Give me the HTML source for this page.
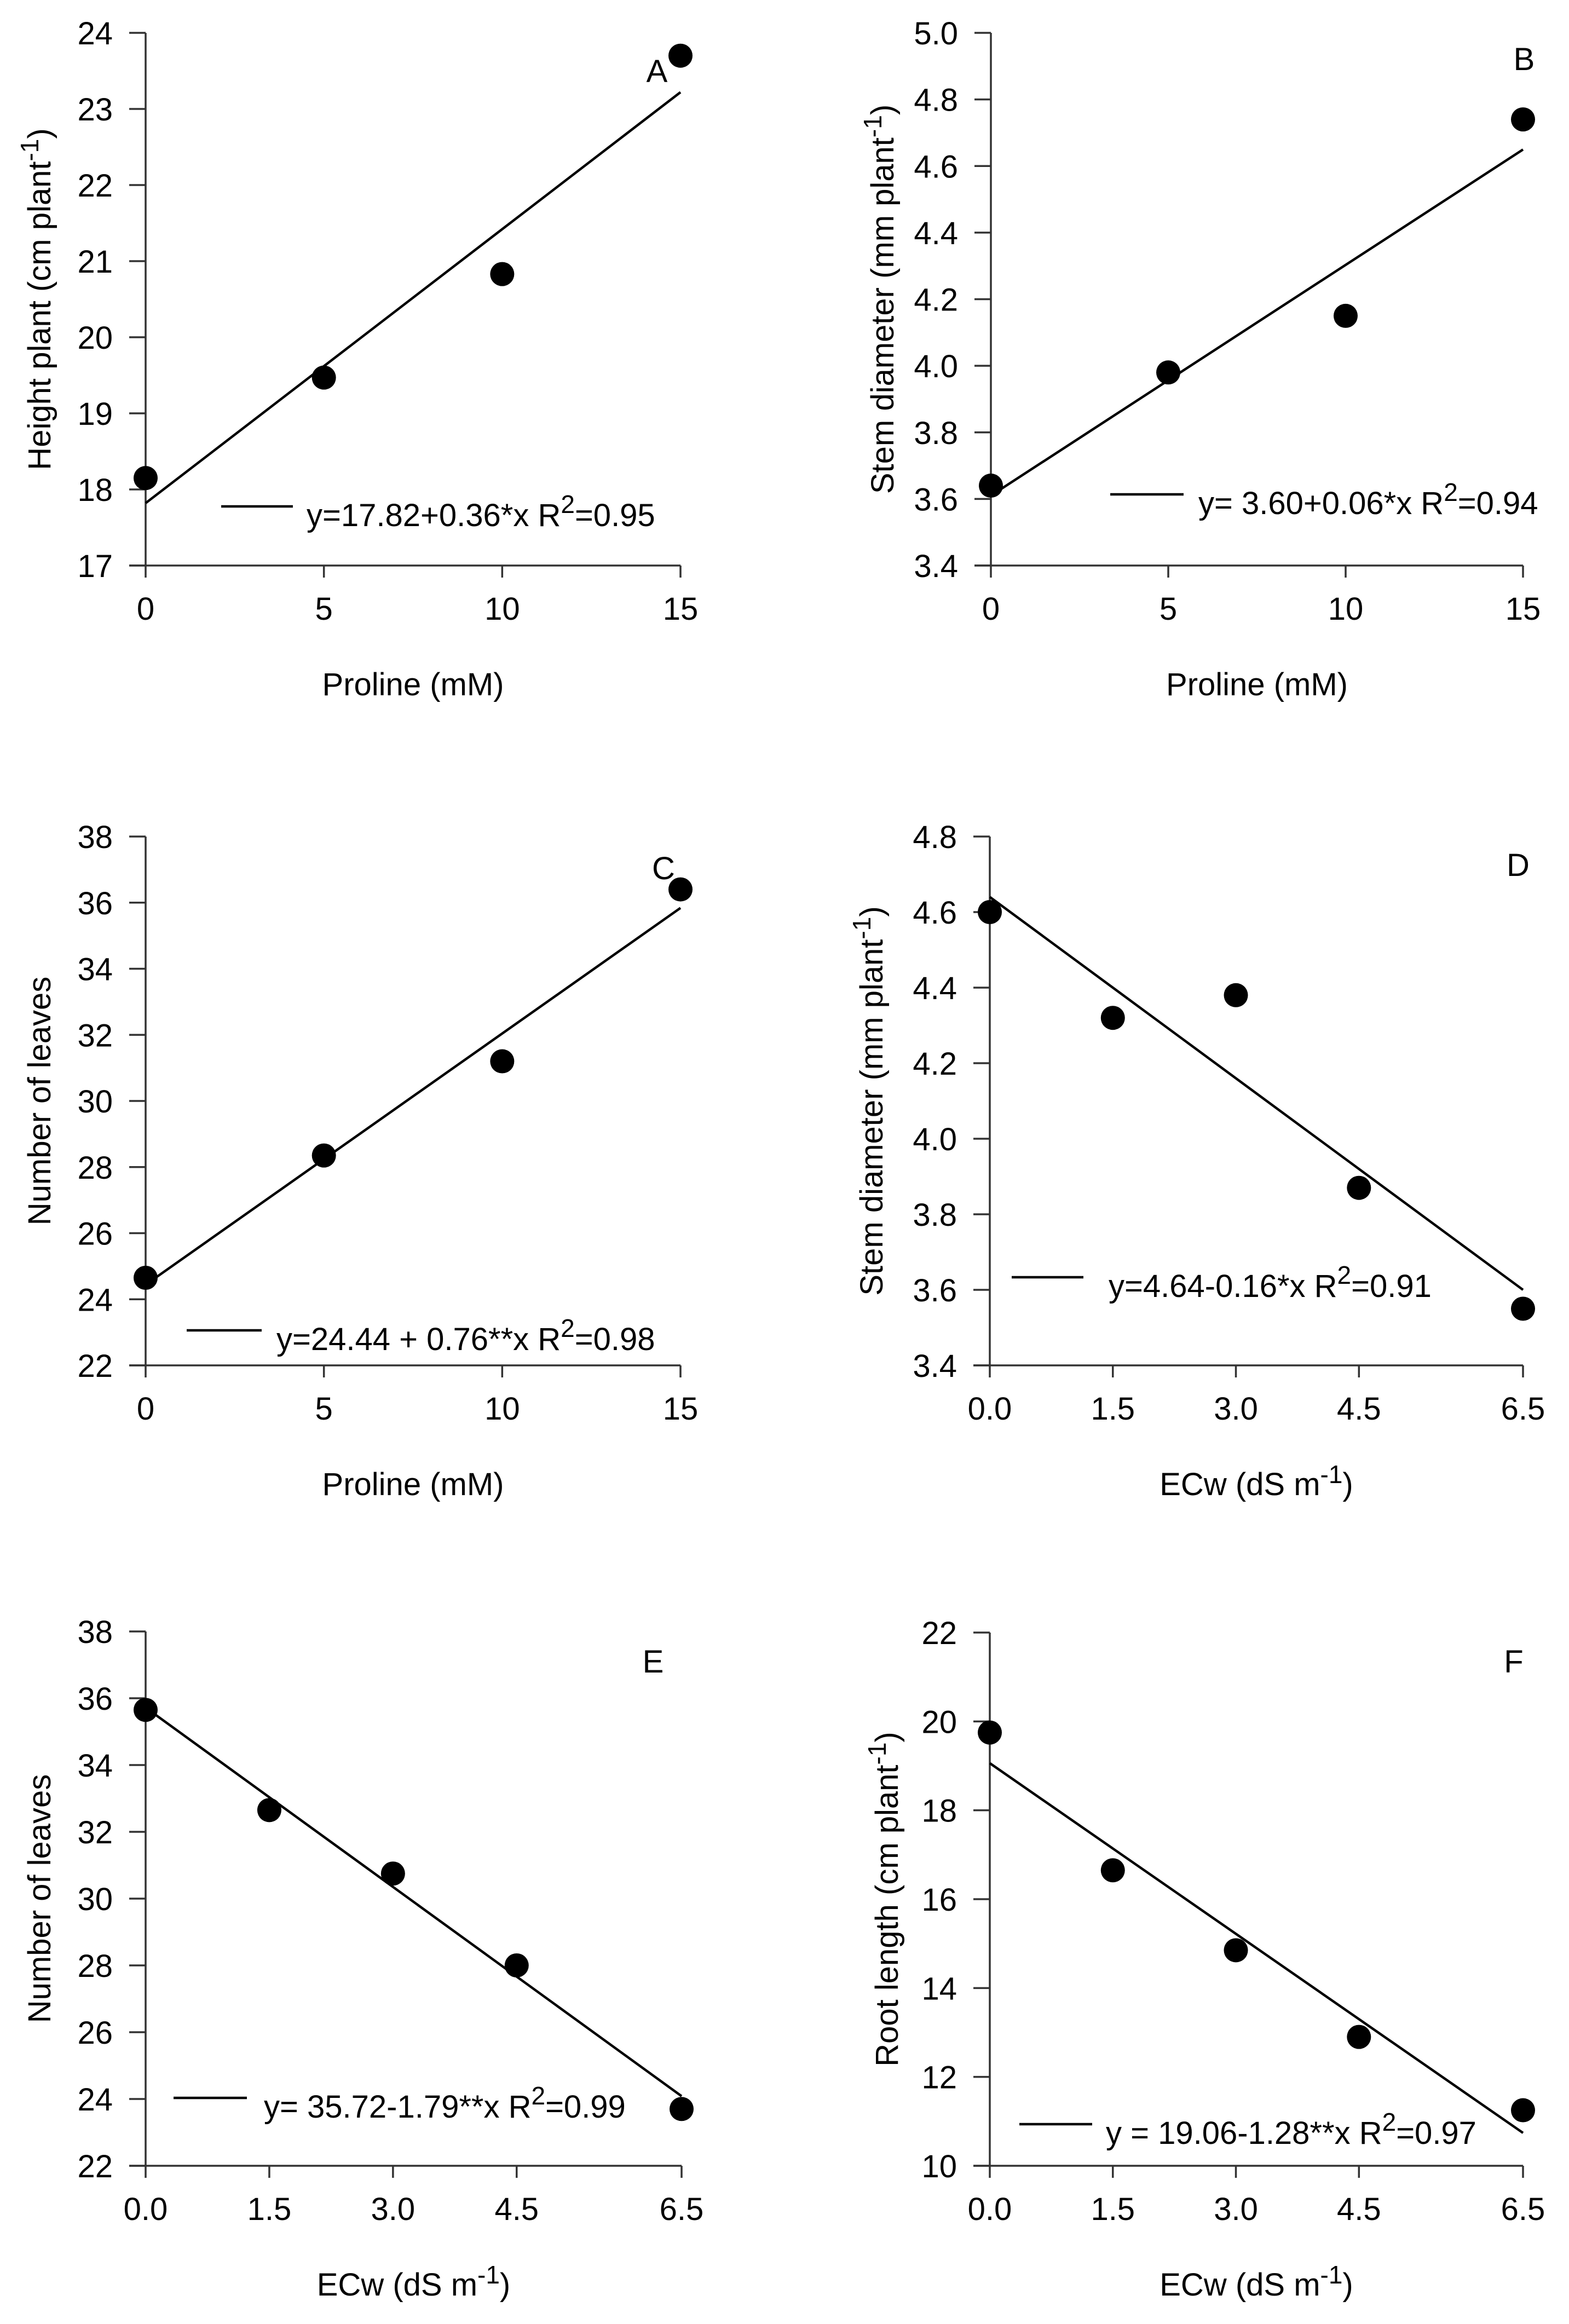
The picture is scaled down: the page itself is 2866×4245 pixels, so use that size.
<!DOCTYPE html>
<html><head><meta charset="utf-8"><style>
html,body{margin:0;padding:0;background:#fff;}
svg{display:block;font-family:"Liberation Sans",Arial,sans-serif;}
</style></head><body>
<svg id="fig" width="2866" height="4245" viewBox="0 0 2866 4245" xmlns="http://www.w3.org/2000/svg"></svg>
<script>
// ---- data ----
const prolineX = [0, 5, 10, 15];
const ecwX = [0, 1.5, 3, 4.5, 6.5];
const heightA = [18.15, 19.47, 20.83, 23.7];
const stemB = [3.64, 3.98, 4.15, 4.74];
const leavesC = [24.65, 28.35, 31.2, 36.4];
const stemD = [4.60, 4.32, 4.38, 3.87, 3.55];
const leavesE = [35.65, 32.65, 30.75, 28.0, 23.7];
const rootF = [19.75, 16.65, 14.85, 12.9, 11.25];
const intercepts = [17.82, 3.61, 24.44, 4.64, 35.72, 19.06];
const slopes = [0.36, 0.0693, 0.76, -0.16, -1.79, -1.28];
const prolineTicks = [0, 5, 10, 15];
const prolineTickLabels = ["0", "5", "10", "15"];
const ecwTicks = [0, 1.5, 3, 4.5, 6.5];
const ecwTickLabels = ["0.0", "1.5", "3.0", "4.5", "6.5"];
const yTicksA = [17, 18, 19, 20, 21, 22, 23, 24];
const yTicksB = [3.4, 3.6, 3.8, 4.0, 4.2, 4.4, 4.6, 4.8, 5.0];
const yTicksC = [22, 24, 26, 28, 30, 32, 34, 36, 38];
const yTicksD = [3.4, 3.6, 3.8, 4.0, 4.2, 4.4, 4.6, 4.8];
const yTicksF = [10, 12, 14, 16, 18, 20, 22];

const NS = "http://www.w3.org/2000/svg";
const svg = document.getElementById('fig');
function mk(tag, attrs, parent) {
  const e = document.createElementNS(NS, tag);
  for (const k in attrs) e.setAttribute(k, attrs[k]);
  (parent || svg).appendChild(e);
  return e;
}

const panels = [
  {id:'a', label:'A', L:266, R:1243, T:60, B:1033, xs:prolineX, ys:heightA, xt:prolineTicks, xtl:prolineTickLabels, xmax:15,
   yt:yTicksA, dec:0, ytitle:['Height plant (cm plant','-1',')'], ytx:92, xtitle:['Proline (mM)'],
   lab:[1200,150], leg:[404,535,925,560], eq:['y=17.82+0.36*x R','2','=0.95'], k:0},
  {id:'b', label:'B', L:1810, R:2782, T:60, B:1033, xs:prolineX, ys:stemB, xt:prolineTicks, xtl:prolineTickLabels, xmax:15,
   yt:yTicksB, dec:1, ytitle:['Stem diameter (mm plant','-1',')'], ytx:1632, xtitle:['Proline (mM)'],
   lab:[2784,128], leg:[2028,2162,903,2189], eq:['y= 3.60+0.06*x R','2','=0.94'], k:1},
  {id:'c', label:'C', L:266, R:1243, T:1528, B:2494, xs:prolineX, ys:leavesC, xt:prolineTicks, xtl:prolineTickLabels, xmax:15,
   yt:yTicksC, dec:0, ytitle:['Number of leaves'], ytx:92, xtitle:['Proline (mM)'],
   lab:[1212,1606], leg:[341,478,2430,505], eq:['y=24.44 + 0.76**x R','2','=0.98'], k:2},
  {id:'d', label:'D', L:1808, R:2782, T:1528, B:2494, xs:ecwX, ys:stemD, xt:ecwTicks, xtl:ecwTickLabels, xmax:6.5,
   yt:yTicksD, dec:1, ytitle:['Stem diameter (mm plant','-1',')'], ytx:1612, xtitle:['ECw (dS m','-1',')'],
   lab:[2773,1600], leg:[1848,1979,2333,2025], eq:['y=4.64-0.16*x R','2','=0.91'], k:3},
  {id:'e', label:'E', L:266, R:1245, T:2980, B:3956, xs:ecwX, ys:leavesE, xt:ecwTicks, xtl:ecwTickLabels, xmax:6.5,
   yt:yTicksC, dec:0, ytitle:['Number of leaves'], ytx:92, xtitle:['ECw (dS m','-1',')'],
   lab:[1193,3055], leg:[317,451,3832,482], eq:['y= 35.72-1.79**x  R','2','=0.99'], k:4},
  {id:'f', label:'F', L:1808, R:2782, T:2982, B:3956, xs:ecwX, ys:rootF, xt:ecwTicks, xtl:ecwTickLabels, xmax:6.5,
   yt:yTicksF, dec:0, ytitle:['Root length (cm plant','-1',')'], ytx:1640, xtitle:['ECw (dS m','-1',')'],
   lab:[2765,3055], leg:[1862,1995,3880,2020], eq:['y = 19.06-1.28**x R','2','=0.97'], k:5}
];

function addSupText(t, parts, shift) {
  parts.forEach((p, i) => {
    const ts = mk('tspan', {}, t);
    if (i === 1) { ts.setAttribute('baseline-shift', shift); ts.setAttribute('font-size', '46'); }
    ts.textContent = p;
  });
}

panels.forEach(p => {
  const g = mk('g', {});
  
  
  const y0 = p.yt[0], y1 = p.yt[p.yt.length - 1];
  const sx = v => p.L + (v / p.xmax) * (p.R - p.L);
  const sy = v => p.B - (v - y0) / (y1 - y0) * (p.B - p.T);
  const ax = '#333';
  const yAxis = mk('line', {x1:p.L, y1:p.T, x2:p.L, y2:p.B, stroke:ax, 'stroke-width':3.5}, g);
  
  
  const xAxis = mk('line', {x1:p.L - 30, y1:p.B, x2:p.R, y2:p.B, stroke:ax, 'stroke-width':3.5}, g);
  
  
  p.yt.forEach(v => {
    const y = sy(v);
    mk('line', {x1:p.L - 30, y1:y, x2:p.L, y2:y, stroke:ax, 'stroke-width':3.5}, g);
    const t = mk('text', {x:p.L - 60, y:y + 21, 'font-size':58, 'text-anchor':'end', fill:'#000'}, g);
    
    
    t.textContent = v.toFixed(p.dec);
  });
  p.xt.forEach((v, i) => {
    const x = sx(v);
    mk('line', {x1:x, y1:p.B, x2:x, y2:p.B + 22, stroke:ax, 'stroke-width':3.5}, g);
    const t = mk('text', {x:x, y:p.B + 99, 'font-size':58, 'text-anchor':'middle', fill:'#000'}, g);
    
    
    t.textContent = p.xtl[i];
  });
  const xt = mk('text', {x:(p.L + p.R) / 2, y:p.B + 237, 'font-size':58, 'text-anchor':'middle', fill:'#000'}, g);
  
  
  addSupText(xt, p.xtitle, '22');
  const cy = (p.T + p.B) / 2;
  const yt = mk('text', {x:p.ytx, y:cy, 'font-size':58, 'text-anchor':'middle', fill:'#000',
    transform:'rotate(-90 ' + p.ytx + ' ' + cy + ')'}, g);
  
  
  addSupText(yt, p.ytitle, '22');
  const a = intercepts[p.k], b = slopes[p.k];
  const rl = mk('line', {x1:sx(0), y1:sy(a), x2:sx(p.xmax), y2:sy(a + b * p.xmax), stroke:'#000', 'stroke-width':4.5}, g);
  
  
  p.ys.forEach((v, i) => {
    const c = mk('circle', {cx:sx(p.xs[i]), cy:sy(v), r:22, fill:'#000'}, g);
    
    
  });
  const ll = mk('line', {x1:p.leg[0], y1:p.leg[2], x2:p.leg[1], y2:p.leg[2], stroke:'#000', 'stroke-width':4.5}, g);
  
  
  const lt = mk('text', {x:p.leg[3], y:p.leg[2] + 36, 'font-size':58, fill:'#000'}, g);
  
  
  addSupText(lt, p.eq, '24');
  const pl = mk('text', {x:p.lab[0], y:p.lab[1], 'font-size':58, 'text-anchor':'middle', fill:'#000'}, g);
  
  
  pl.textContent = p.label;
});
</script>
</body></html>
